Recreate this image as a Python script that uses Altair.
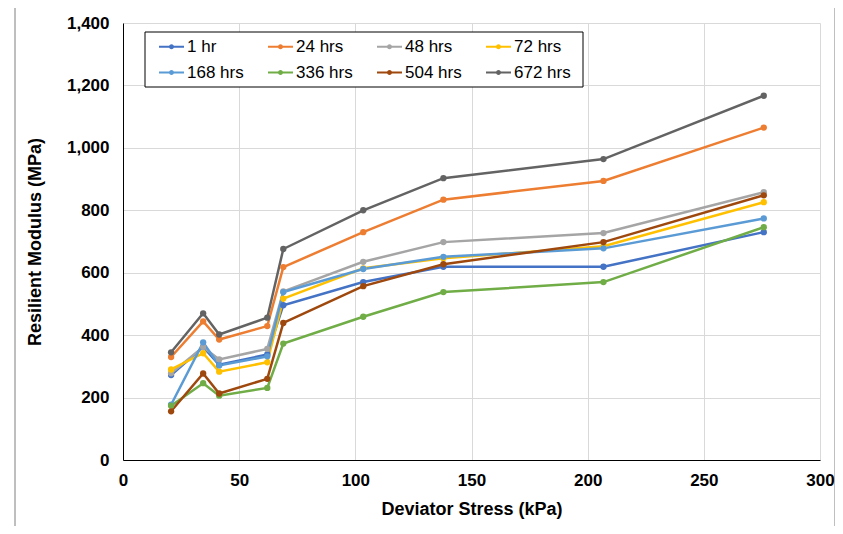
import altair as alt
import pandas as pd

stress = [20.7, 34.5, 41.4, 62.1, 69.0, 103.4, 137.9, 206.8, 275.8]

series_names = ["1 hr", "24 hrs", "48 hrs", "72 hrs", "168 hrs", "336 hrs", "504 hrs", "672 hrs"]
colors = ["#4472C4", "#ED7D31", "#A5A5A5", "#FFC000", "#5B9BD5", "#70AD47", "#9E480E", "#636363"]

hr1 = [272, 362, 305, 338, 496, 570, 619, 619, 730]
hr24 = [330, 444, 386, 429, 618, 730, 834, 894, 1065]
hr48 = [278, 362, 322, 356, 540, 635, 698, 727, 858]
hr72 = [290, 342, 283, 313, 517, 614, 646, 685, 826]
hr168 = [177, 377, 303, 332, 538, 612, 651, 678, 774]
hr336 = [174, 246, 206, 231, 373, 459, 538, 570, 746]
hr504 = [156, 277, 213, 260, 439, 557, 627, 698, 848]
hr672 = [345, 470, 402, 456, 676, 800, 903, 964, 1167]

values = [hr1, hr24, hr48, hr72, hr168, hr336, hr504, hr672]

x_ticks = [0, 50, 100, 150, 200, 250, 300]
y_ticks = [0, 200, 400, 600, 800, 1000, 1200, 1400]

rows = []
for name, vals in zip(series_names, values):
    for i, (s, v) in enumerate(zip(stress, vals)):
        rows.append({"series": name, "stress": s, "modulus": v, "order": i})
df = pd.DataFrame(rows)

FONT = "Liberation Sans"

color = alt.Color(
    "series:N",
    scale=alt.Scale(domain=series_names, range=colors),
    sort=series_names,
    legend=alt.Legend(
        title=None,
        orient="none",
        legendX=35,
        legendY=10,
        direction="horizontal",
        columns=4,
        columnPadding=20,
        rowPadding=4,
        padding=0,
        labelFont=FONT,
        labelFontSize=17,
        labelColor="black",
        labelOffset=2,
        symbolType="M-1,0L1,0M-0.12,0A0.12,0.12 0 1,0 0.12,0A0.12,0.12 0 1,0 -0.12,0",
        symbolSize=625,
        symbolStrokeWidth=2,
    ),
)

x = alt.X(
    "stress:Q",
    scale=alt.Scale(domain=[0, 300], nice=False),
    axis=alt.Axis(
        values=x_ticks,
        title="Deviator Stress (kPa)",
        labelPadding=12,
        titlePadding=12,
        labelFlush=False,
    ),
)
y = alt.Y(
    "modulus:Q",
    scale=alt.Scale(domain=[0, 1400], nice=False),
    axis=alt.Axis(
        values=y_ticks,
        format=",d",
        title="Resilient Modulus (MPa)",
        labelPadding=14,
        titlePadding=22,
        labelFlush=False,
    ),
)

base = alt.Chart(df)
lines = base.mark_line(strokeWidth=2.5).encode(x=x, y=y, color=color, order="order:Q")
pts = base.mark_circle(size=40, opacity=1).encode(x=x, y=y, color=color)

frame = alt.Chart(pd.DataFrame({"a": [0]})).mark_rect(
    fill=None, stroke="#7f7f7f", strokeWidth=1
).encode(
    x=alt.value(-108), x2=alt.value(712), y=alt.value(-19), y2=alt.value(507)
)

legend_box = alt.Chart(pd.DataFrame({"a": [0]})).mark_rect(
    fill="white", stroke="black", strokeWidth=1
).encode(
    x=alt.value(22), x2=alt.value(460), y=alt.value(9), y2=alt.value(64)
)

chart = alt.layer(frame, lines, pts, legend_box).properties(
    width=697,
    height=437,
    autosize=alt.AutoSizeParams(type="none"),
    padding={"left": 115, "top": 15, "right": 15, "bottom": 66},
).configure_view(stroke=None).configure_axis(
    labelFont=FONT,
    labelFontSize=17,
    labelFontWeight="bold",
    labelColor="black",
    titleFont=FONT,
    titleFontSize=18,
    titleFontWeight="bold",
    titleColor="black",
    domainColor="black",
    domainWidth=1,
    ticks=False,
    gridColor="#D9D9D9",
    gridWidth=1,
)

chart.save("out.html", embed_options={"renderer": "svg", "actions": False})
